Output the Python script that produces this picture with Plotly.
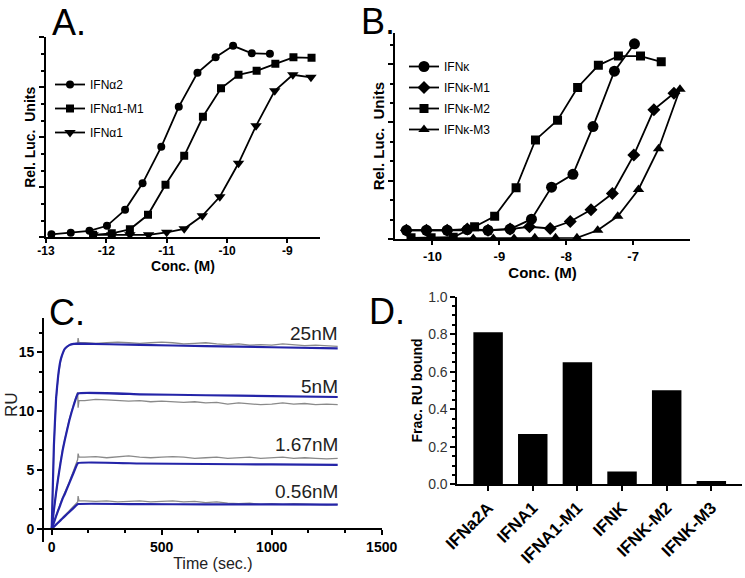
import plotly.graph_objects as go

W, H = 745, 578
FONT = "Liberation Sans"

# ---------------- Panel A data (log10 conc, rel. luc. units) ----------------
a_ifna2_x = [-12.91, -12.59, -12.28, -11.99, -11.69, -11.40, -11.09, -10.80, -10.49, -10.19, -9.90, -9.59, -9.29]
a_ifna2_y = [0.06, 0.09, 0.13, 0.23, 0.55, 1.08, 1.81, 2.61, 3.29, 3.60, 3.83, 3.68, 3.67]
a_ifna1m1_x = [-12.22, -11.91, -11.61, -11.31, -11.02, -10.71, -10.40, -10.10, -9.81, -9.51, -9.20, -8.90, -8.60]
a_ifna1m1_y = [0.05, 0.08, 0.16, 0.45, 1.05, 1.63, 2.41, 2.98, 3.25, 3.33, 3.47, 3.60, 3.59]
a_ifna1_x = [-12.22, -11.91, -11.61, -11.30, -11.00, -10.71, -10.41, -10.12, -9.81, -9.52, -9.21, -8.91, -8.61]
a_ifna1_y = [0.05, 0.05, 0.05, 0.05, 0.10, 0.17, 0.43, 0.81, 1.48, 2.23, 2.93, 3.25, 3.20]
a_ticks = [-13, -12, -11, -10, -9]

# ---------------- Panel B data ----------------
b_k_x = [-10.39, -10.09, -9.78, -9.48, -9.17, -8.84, -8.52, -8.22, -7.90, -7.60, -7.28, -6.98]
b_k_y = [0.15, 0.15, 0.15, 0.16, 0.15, 0.17, 0.34, 0.89, 1.11, 1.93, 2.88, 3.35]
b_km1_x = [-10.39, -10.09, -9.78, -9.48, -9.17, -8.84, -8.55, -8.24, -7.94, -7.63, -7.31, -6.99, -6.69, -6.39]
b_km1_y = [0.15, 0.15, 0.15, 0.17, 0.15, 0.17, 0.21, 0.18, 0.30, 0.50, 0.78, 1.44, 2.22, 2.50]
b_km2_x = [-10.32, -10.02, -9.69, -9.37, -9.07, -8.75, -8.46, -8.13, -7.83, -7.52, -7.22, -6.89, -6.58]
b_km2_y = [0.02, 0.02, 0.03, 0.21, 0.39, 0.88, 1.70, 2.04, 2.60, 2.98, 3.14, 3.14, 3.04]
b_km3_x = [-10.32, -10.02, -9.69, -9.39, -9.09, -8.78, -8.47, -8.16, -7.84, -7.53, -7.23, -6.92, -6.62, -6.30]
b_km3_y = [0.01, 0.01, 0.01, 0.01, 0.01, 0.01, 0.02, 0.02, 0.02, 0.15, 0.39, 0.85, 1.55, 2.57]
b_ticks = [-10, -9, -8, -7]

# ---------------- Panel C data (SPR sensorgrams) ----------------
c_labels = ["25nM", "5nM", "1.67nM", "0.56nM"]
c_label_y = [16.6, 12.06, 7.2, 3.16]
t_fit = [0, 10, 20, 30, 40, 50, 60, 80, 100, 120, 400, 700, 1000, 1300]
fit_25 = [0, 7.1, 11.1, 13.1, 14.3, 14.9, 15.3, 15.6, 15.7, 15.72, 15.62, 15.52, 15.42, 15.32]
fit_5 = [0, 1.6, 3.1, 4.4, 5.6, 6.7, 7.6, 9.2, 10.5, 11.5, 11.43, 11.35, 11.28, 11.2]
fit_167 = [0, 0.55, 1.1, 1.6, 2.1, 2.6, 3.0, 3.9, 4.8, 5.6, 5.56, 5.52, 5.48, 5.45]
fit_056 = [0, 0.19, 0.38, 0.56, 0.74, 0.92, 1.1, 1.45, 1.8, 2.12, 2.11, 2.1, 2.09, 2.08]

t_data = [-35, 0, 10, 20, 30, 40, 50, 60, 80, 100, 118, 120, 124,
          150, 200, 250, 300, 350, 400, 450, 500, 550, 600, 650, 700,
          750, 800, 850, 900, 950, 1000, 1050, 1100, 1150, 1200, 1250, 1300]
data_25 = [0, 0, 7.0, 11.0, 13.0, 14.2, 14.9, 15.3, 15.6, 15.7, 15.8, 16.2, 15.8,
           15.8, 15.75, 15.8, 15.85, 15.8, 15.75, 15.8, 15.85, 15.8, 15.7, 15.75, 15.8,
           15.7, 15.65, 15.7, 15.6, 15.65, 15.6, 15.7, 15.6, 15.55, 15.6, 15.55, 15.5]
data_5 = [0, 0, 1.7, 3.2, 4.5, 5.7, 6.8, 7.7, 9.3, 10.6, 11.6, 10.3, 10.9,
          10.9, 11.0, 10.95, 10.9, 10.85, 10.9, 10.8, 10.85, 10.8, 10.75, 10.8, 10.7,
          10.75, 10.6, 10.7, 10.65, 10.55, 10.6, 10.7, 10.6, 10.65, 10.55, 10.6, 10.55]
data_167 = [0, 0, 0.6, 1.2, 1.7, 2.2, 2.7, 3.1, 4.0, 5.0, 5.9, 6.4, 6.1,
            6.1, 6.15, 6.05, 6.1, 6.2, 6.1, 6.05, 6.1, 6.15, 6.1, 6.0, 6.05,
            6.1, 6.0, 6.05, 6.1, 6.0, 6.05, 6.1, 6.0, 6.05, 6.0, 5.95, 6.0]
data_056 = [0, 0, 0.2, 0.4, 0.6, 0.8, 1.0, 1.2, 1.6, 2.0, 2.3, 2.8, 2.4,
            2.4, 2.35, 2.4, 2.3, 2.35, 2.4, 2.3, 2.35, 2.4, 2.3, 2.35, 2.25,
            2.3, 2.2, 2.15, 2.2, 2.1, 2.15, 2.1, 2.15, 2.1, 2.1, 2.05, 2.1]

# ---------------- Panel D data ----------------
d_cats = ["IFNa2A", "IFNA1", "IFNA1-M1", "IFNK", "IFNK-M2", "IFNK-M3"]
d_vals = [0.81, 0.268, 0.651, 0.068, 0.501, 0.018]


def dx(p0, p1):
    return [p0 / W, p1 / W]


def dy(top, bottom):
    return [1 - bottom / H, 1 - top / H]


fig = go.Figure()
BLK = "black"
LW = 1.8

# Panel A traces
for name, xs, ys, sym, sz in [
    ("IFNα2", a_ifna2_x, a_ifna2_y, "circle", 8),
    ("IFNα1-M1", a_ifna1m1_x, a_ifna1m1_y, "square", 8),
    ("IFNα1", a_ifna1_x, a_ifna1_y, "triangle-down", 10),
]:
    fig.add_trace(go.Scatter(x=xs, y=ys, mode="lines+markers", name=name,
                             line=dict(color=BLK, width=LW),
                             marker=dict(symbol=sym, size=sz, color=BLK),
                             xaxis="x", yaxis="y", legend="legend", legendgroup=name))

# Panel B traces
for name, xs, ys, sym, sz in [
    ("IFNκ", b_k_x, b_k_y, "circle", 11),
    ("IFNκ-M1", b_km1_x, b_km1_y, "diamond", 10),
    ("IFNκ-M2", b_km2_x, b_km2_y, "square", 9),
    ("IFNκ-M3", b_km3_x, b_km3_y, "triangle-up", 10),
]:
    fig.add_trace(go.Scatter(x=xs, y=ys, mode="lines+markers", name=name,
                             line=dict(color=BLK, width=LW),
                             marker=dict(symbol=sym, size=sz, color=BLK),
                             xaxis="x2", yaxis="y2", legend="legend2", legendgroup=name))

# Panel C traces
GRAY = "#8a8a8a"
BLUE = "#2424a8"
for ys in [data_25, data_5, data_167, data_056]:
    fig.add_trace(go.Scatter(x=t_data, y=ys, mode="lines", showlegend=False,
                             line=dict(color=GRAY, width=1.3), xaxis="x3", yaxis="y3"))
for ys in [fit_25, fit_5, fit_167, fit_056]:
    fig.add_trace(go.Scatter(x=t_fit, y=ys, mode="lines", showlegend=False,
                             line=dict(color=BLUE, width=2.2, shape="spline", smoothing=0.3),
                             xaxis="x3", yaxis="y3"))

# Panel D bars
fig.add_trace(go.Bar(x=d_cats, y=d_vals, width=0.66, marker=dict(color=BLK, line=dict(width=0)),
                     showlegend=False, xaxis="x4", yaxis="y4"))

common = dict(showgrid=False, zeroline=False, showline=True, linecolor=BLK, linewidth=LW,
              ticks="outside", tickcolor=BLK, tickwidth=1.5, automargin=False)

bold12 = dict(family=FONT, size=12, color=BLK, weight="bold")
bold13 = dict(family=FONT, size=13, color=BLK, weight="bold")
bold14 = dict(family=FONT, size=14, color=BLK, weight="bold")
bold15 = dict(family=FONT, size=15, color=BLK, weight="bold")

fig.update_layout(
    width=W, height=H, margin=dict(l=0, r=0, t=0, b=0),
    paper_bgcolor="white", plot_bgcolor="white",
    font=dict(family=FONT, color=BLK),
    # Panel A
    xaxis=dict(**common, domain=dx(46, 320), range=[-13, -8.46], tickvals=a_ticks,
               ticktext=[str(v) for v in a_ticks], ticklen=4, tickfont=bold12, anchor="y",
               ticklabelstandoff=-3,
               title=dict(text="Conc. (M)", font=bold14, standoff=4)),
    yaxis=dict(**common, domain=dy(37.3, 237.3), range=[0, 4], tick0=0, dtick=1,
               showticklabels=False, ticklen=5, anchor="x",
               minor=dict(dtick=1 / 3, ticklen=3, ticks="outside", tickcolor=BLK),
               title=dict(text="Rel. Luc.  Units", font=bold14, standoff=0)),
    # Panel B
    xaxis2=dict(**common, domain=dx(395, 690), range=[-10.56, -6.15], tickvals=b_ticks,
                ticktext=[str(v) for v in b_ticks], ticklen=4, tickfont=bold13, anchor="y2",
                title=dict(text="Conc. (M)", font=bold15, standoff=2)),
    yaxis2=dict(**common, domain=dy(33.3, 239), range=[0, 3.53], tick0=0, dtick=1,
                showticklabels=False, ticklen=5, anchor="x2",
                minor=dict(dtick=1 / 3, ticklen=3, ticks="outside", tickcolor=BLK),
                title=dict(text="Rel. Luc.  Units", font=bold15, standoff=0)),
    # Panel C
    xaxis3=dict(**common, domain=dx(44, 381.7), range=[-35, 1500], tick0=0, dtick=500,
                ticklen=5, tickfont=bold14, anchor="free", position=1 - 529 / H,
                minor=dict(dtick=500 / 3, ticklen=3, ticks="outside", tickcolor=BLK),
                title=dict(text="Time (sec.)", font=dict(family=FONT, size=16, color="#222"), standoff=1)),
    yaxis3=dict(**common, domain=dy(318, 541.7), range=[-1.07, 17.9], tick0=0, dtick=5,
                ticklen=5, tickfont=bold14, anchor="x3",
                minor=dict(dtick=5 / 3, ticklen=3, ticks="outside", tickcolor=BLK)),
    # Panel D
    xaxis4=dict(**common, domain=dx(457.3, 741.7), range=[-0.69, 5.68], type="category",
                ticklen=5, tickangle=-45, tickfont=dict(family=FONT, size=17, color=BLK, weight="bold"),
                anchor="y4"),
    yaxis4=dict(**common, domain=dy(296.7, 484.3), range=[0, 1.0], tick0=0, dtick=0.2,
                tickformat=".1f", ticklen=5, anchor="x4",
                tickfont=dict(family=FONT, size=14, color="#333"),
                minor=dict(dtick=0.05, ticklen=3, ticks="outside", tickcolor=BLK),
                title=dict(text="Frac. RU bound", font=bold14, standoff=2)),
    legend=dict(x=50 / W, y=1 - 70 / H, xanchor="left", yanchor="top", bgcolor="rgba(0,0,0,0)",
                font=dict(family=FONT, size=12, color=BLK), tracegroupgap=5, itemwidth=30),
    legend2=dict(x=404 / W, y=1 - 52 / H, xanchor="left", yanchor="top", bgcolor="rgba(0,0,0,0)",
                 font=dict(family=FONT, size=12, color=BLK), tracegroupgap=2, itemwidth=30),
)

annos = []
for txt, x, y in [("A.", 50, 22), ("B.", 359, 21), ("C.", 47, 312), ("D.", 367, 311)]:
    annos.append(dict(text=txt, x=x / W, y=1 - y / H, xref="paper", yref="paper",
                      xanchor="left", yanchor="middle", showarrow=False,
                      font=dict(family=FONT, size=36, color=BLK)))
for lab, ly in zip(c_labels, c_label_y):
    annos.append(dict(text=lab, x=1310, y=ly, xref="x3", yref="y3", xanchor="right",
                      yanchor="middle", showarrow=False,
                      font=dict(family=FONT, size=19, color="#222")))
annos.append(dict(text="RU", x=11 / W, y=1 - 405 / H, xref="paper", yref="paper",
                  textangle=-90, showarrow=False, xanchor="center", yanchor="middle",
                  font=dict(family=FONT, size=17, color="#222")))
fig.update_layout(annotations=annos)

fig.write_html("out.html", config={"displayModeBar": False},
               post_script="document.body.style.margin='0';document.body.style.padding='0';")
